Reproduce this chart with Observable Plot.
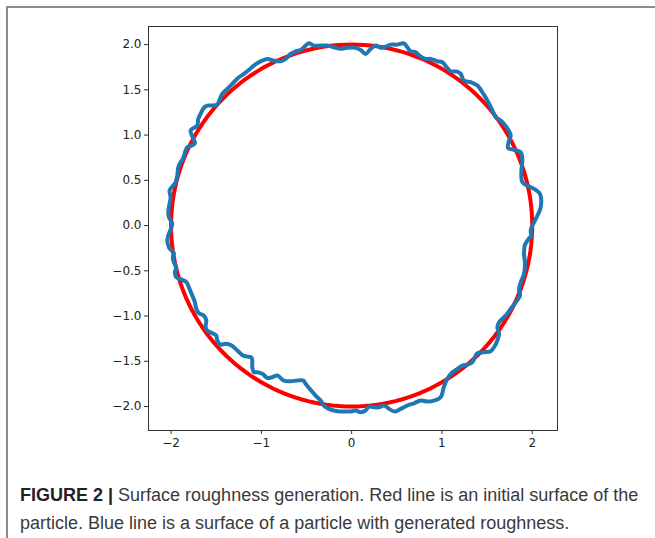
<!DOCTYPE html>
<html>
<head>
<meta charset="utf-8">
<script src="https://cdn.jsdelivr.net/npm/d3@7"></script>
<script src="https://cdn.jsdelivr.net/npm/@observablehq/plot@0.6"></script>
<style>
  html, body { margin: 0; padding: 0; background: #fff; }
  #wrap { position: relative; width: 655px; height: 538px; overflow: hidden; }
  #frame { position: absolute; left: 6px; top: 6px; width: 700px; height: 600px;
           border-top: 2px solid #8c8c8c; border-left: 2px solid #8c8c8c; }
  #chart { position: absolute; left: 0; top: 0; }
  #caption { position: absolute; left: 20px; top: 481px; width: 630px;
             font-family: "Liberation Sans Narrow", "Liberation Sans", Arial, sans-serif;
             font-size: 18px; line-height: 28px; color: #3a3a3a; white-space: nowrap; }
  #caption b { color: #222; }
</style>
</head>
<body>
<div id="wrap">
  <div id="frame"></div>
  <div id="chart"></div>
  <div id="caption"><b>FIGURE 2 |</b> Surface roughness generation. Red line is an initial surface of the<br>particle. Blue line is a surface of a particle with generated roughness.</div>
</div>
<script>
// Tick labels
const xTicks = [-2, -1, 0, 1, 2];
const yTicks = [-2, -1.5, -1, -0.5, 0, 0.5, 1, 1.5, 2];

// Initial (smooth) surface: circle radius
const initialRadius = 2;

// Rough surface (blue), traced counter-clockwise from the right side
const roughX = [1.991,1.983,2.002,2.020,2.058,2.094,2.086,2.039,1.947,1.891,1.880,1.891,1.873,1.798,1.732,1.743,1.762,1.717,1.651,1.596,
1.559,1.504,1.459,1.393,1.319,1.244,1.208,1.171,1.097,1.053,1.005,0.950,0.875,0.820,0.765,0.709,0.654,0.617,0.579,0.506,
0.432,0.377,0.321,0.266,0.211,0.155,0.100,0.044,-0.048,-0.122,-0.196,-0.269,-0.343,-0.418,-0.473,-0.510,-0.565,-0.620,-0.676,-0.731,
-0.787,-0.861,-0.934,-1.027,-1.083,-1.138,-1.193,-1.249,-1.304,-1.377,-1.433,-1.463,-1.488,-1.543,-1.599,-1.637,-1.673,-1.699,-1.710,-1.747,
-1.784,-1.758,-1.736,-1.773,-1.820,-1.839,-1.869,-1.895,-1.920,-1.931,-1.950,-1.987,-2.017,-2.005,-2.017,-2.031,-2.024,-1.987,-2.005,-2.031,
-2.042,-2.024,-1.994,-1.969,-1.980,-1.969,-1.942,-1.958,-1.942,-1.876,-1.828,-1.803,-1.765,-1.736,-1.721,-1.692,-1.637,-1.610,-1.618,-1.599,
-1.543,-1.499,-1.488,-1.451,-1.396,-1.330,-1.266,-1.204,-1.156,-1.108,-1.100,-1.083,-1.045,-0.989,-0.934,-0.879,-0.823,-0.750,-0.676,-0.602,
-0.535,-0.510,-0.454,-0.399,-0.343,-0.307,-0.252,-0.158,-0.085,-0.011,0.044,0.100,0.155,0.192,0.247,0.302,0.358,0.413,0.476,0.543,
0.617,0.690,0.765,0.839,0.912,0.986,1.023,1.060,1.116,1.171,1.227,1.282,1.337,1.366,1.393,1.466,1.540,1.577,1.614,1.632,
1.614,1.632,1.707,1.762,1.817,1.865,1.854,1.873,1.909,1.920,1.909,1.917,1.947];
const roughY = [-0.111,-0.055,0.000,0.036,0.111,0.202,0.350,0.394,0.442,0.478,0.608,0.718,0.810,0.836,0.859,0.939,0.995,1.086,1.160,1.197,
1.271,1.381,1.455,1.547,1.584,1.602,1.676,1.702,1.705,1.749,1.805,1.816,1.842,1.842,1.867,1.915,1.926,1.970,2.014,2.000,
2.000,1.978,1.964,1.989,1.953,1.897,1.941,1.964,1.964,1.953,1.970,1.989,1.989,1.989,2.014,1.989,1.941,1.926,1.897,1.842,
1.816,1.823,1.842,1.805,1.768,1.720,1.676,1.639,1.584,1.511,1.455,1.389,1.337,1.326,1.326,1.301,1.234,1.179,1.105,1.080,
1.050,0.969,0.909,0.884,0.865,0.829,0.737,0.699,0.644,0.553,0.478,0.431,0.387,0.313,0.240,0.147,0.092,0.019,-0.044,-0.111,
-0.166,-0.240,-0.276,-0.306,-0.350,-0.406,-0.461,-0.516,-0.571,-0.600,-0.627,-0.682,-0.774,-0.848,-0.920,-0.969,-0.995,-1.050,-1.116,-1.160,
-1.190,-1.216,-1.271,-1.315,-1.307,-1.326,-1.381,-1.437,-1.448,-1.462,-1.566,-1.621,-1.621,-1.639,-1.683,-1.676,-1.658,-1.713,-1.720,-1.713,
-1.713,-1.749,-1.816,-1.879,-1.934,-1.989,-2.026,-2.052,-2.055,-2.055,-2.044,-2.063,-2.044,-2.000,-2.008,-2.008,-1.989,-2.026,-2.055,-2.026,
-1.989,-1.964,-1.934,-1.945,-1.934,-1.897,-1.779,-1.694,-1.621,-1.584,-1.547,-1.536,-1.511,-1.455,-1.411,-1.400,-1.389,-1.345,-1.271,-1.197,
-1.124,-1.069,-0.995,-0.920,-0.848,-0.774,-0.699,-0.627,-0.534,-0.423,-0.313,-0.221,-0.166];

const rough = roughX.map((x, i) => ({x, y: roughY[i]}));
rough.push(rough[0]);

const circle = d3.range(0, 361, 2).map(a => ({
  x: initialRadius * Math.cos(a * Math.PI / 180),
  y: initialRadius * Math.sin(a * Math.PI / 180)
}));

const chart = Plot.plot({
  width: 655,
  height: 460,
  marginLeft: 148,
  marginRight: 98,
  marginTop: 26,
  marginBottom: 30,
  style: { fontFamily: "DejaVu Sans, sans-serif", fontSize: "12px", color: "#222", background: "transparent" },
  x: { domain: [-2.25, 2.28] },
  y: { domain: [-2.265, 2.2] },
  marks: [
    Plot.line(circle, { x: "x", y: "y", stroke: "#ff0000", strokeWidth: 4, curve: "linear" }),
    Plot.line(rough, { x: "x", y: "y", stroke: "#1f77b4", strokeWidth: 4, curve: "catmull-rom", strokeLinejoin: "round" }),
    Plot.frame({ stroke: "#333", strokeWidth: 1 }),
    Plot.axisX({ ticks: xTicks, tickFormat: d3.format("d"), tickSize: 4, tickPadding: 4, label: null, stroke: "#333", fontSize: 12 }),
    Plot.axisY({ ticks: yTicks, tickFormat: d3.format(".1f"), tickSize: 4, tickPadding: 3, label: null, stroke: "#333", fontSize: 12 })
  ]
});
document.getElementById("chart").appendChild(chart);
</script>
</body>
</html>
